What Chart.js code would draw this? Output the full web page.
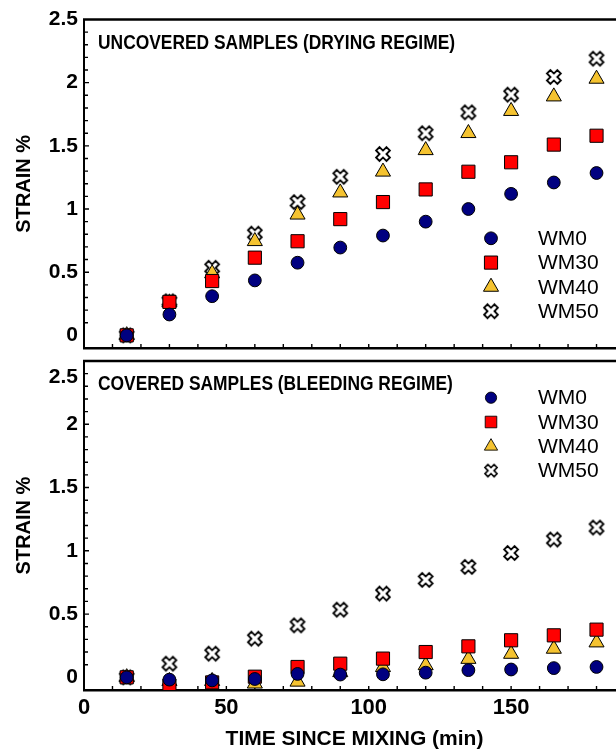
<!DOCTYPE html>
<html>
<head>
<meta charset="utf-8">
<script src="https://cdn.jsdelivr.net/npm/chart.js@4/dist/chart.umd.min.js"></script>
<style>
html, body { margin:0; padding:0; width:616px; height:750px; overflow:hidden; background:#fff; }
canvas { display:block; }
</style>
</head>
<body>
<canvas id="dryChart" width="625" height="354"></canvas>
<canvas id="bleedChart" width="625" height="396"></canvas>
<script>
// ===== Data =====
const times = [15, 30, 45, 60, 75, 90, 105, 120, 135, 150, 165, 180];
const seriesNames = ['WM0', 'WM30', 'WM40', 'WM50'];

// uncovered samples (drying regime)
const wm0Dry  = [0, 0.165, 0.31, 0.435, 0.575, 0.695, 0.79, 0.90, 1.00, 1.12, 1.21, 1.285];
const wm30Dry = [0, 0.265, 0.43, 0.615, 0.745, 0.92, 1.055, 1.155, 1.295, 1.37, 1.51, 1.58];
const wm40Dry = [0, 0.26, 0.49, 0.745, 0.955, 1.13, 1.295, 1.465, 1.60, 1.775, 1.89, 2.03];
const wm50Dry = [0, 0.27, 0.535, 0.805, 1.055, 1.255, 1.435, 1.60, 1.765, 1.905, 2.045, 2.19];

// covered samples (bleeding regime)
const wm0Bleed  = [0, -0.018, -0.024, -0.013, 0.027, 0.022, 0.024, 0.037, 0.057, 0.062, 0.073, 0.082];
const wm30Bleed = [0, -0.065, -0.04, 0.005, 0.082, 0.108, 0.148, 0.20, 0.245, 0.293, 0.332, 0.377];
const wm40Bleed = [0, -0.03, -0.03, -0.05, -0.035, 0.04, 0.08, 0.095, 0.145, 0.185, 0.225, 0.275];
const wm50Bleed = [0, 0.108, 0.187, 0.306, 0.411, 0.535, 0.662, 0.77, 0.873, 0.983, 1.089, 1.184];

const xTicks = [0, 50, 100, 150];
const yTicks = [0, 0.5, 1, 1.5, 2, 2.5];
const yTickLabels = ['0', '0.5', '1', '1.5', '2', '2.5'];
const panelTitles = ['UNCOVERED SAMPLES (DRYING REGIME)', 'COVERED SAMPLES (BLEEDING REGIME)'];
const xTitle = 'TIME SINCE MIXING (min)';
const yTitle = 'STRAIN %';

// ===== Markers =====
const FONT = "'Liberation Sans', Arial, sans-serif";

function makeCross(size) {
    let c = document.createElement('canvas');
    c.width = c.height = size;
    let g = c.getContext('2d');
    let L = size * 0.41, w = size * 0.135;
    g.translate(size / 2, size / 2);
    g.rotate(Math.PI / 4);
    g.beginPath();
    g.moveTo(-w, -L); g.lineTo(w, -L); g.lineTo(w, -w); g.lineTo(L, -w);
    g.lineTo(L, w); g.lineTo(w, w); g.lineTo(w, L); g.lineTo(-w, L);
    g.lineTo(-w, w); g.lineTo(-L, w); g.lineTo(-L, -w); g.lineTo(-w, -w);
    g.closePath();
    g.fillStyle = '#fff';
    g.fill();
    g.lineWidth = 1.8;
    g.strokeStyle = '#000';
    g.stroke();
    return c;
}
const crossMark = makeCross(18);

const seriesStyles = [
    { pointStyle: 'circle', color: '#000080', radius: 6.4 },
    { pointStyle: 'rect', color: '#ff0000', radius: 9.3 },
    { pointStyle: 'triangle', color: '#f5c330', radius: 8.7 },
    { pointStyle: crossMark, color: '#ffffff', radius: 8 }
];

// ===== Decoration plugin (frame, inward ticks, panel title, legend) =====
const panelDecor = {
    id: 'panelDecor',
    beforeDatasetsDraw(chart, args, opts) {
        let ctx = chart.ctx, a = chart.chartArea;
        let xs = chart.scales.x, ys = chart.scales.y;
        ctx.save();
        ctx.strokeStyle = '#000';
        // top frame line
        ctx.lineWidth = 2.5;
        ctx.beginPath();
        ctx.moveTo(a.left - 1, a.top);
        ctx.lineTo(a.right, a.top);
        ctx.stroke();
        // inward ticks
        ctx.lineWidth = 1.4;
        ctx.beginPath();
        for (let k = 1; k < 25; k++) {
            let y = ys.getPixelForValue(k / 10);
            let len = k % 5 === 0 ? 5 : 4;
            ctx.moveTo(a.left, y);
            ctx.lineTo(a.left + len, y);
        }
        for (let k = 1; k < 19; k++) {
            let x = xs.getPixelForValue(k * 10);
            ctx.moveTo(x, a.bottom);
            ctx.lineTo(x, a.bottom - 4);
        }
        ctx.stroke();
        ctx.restore();
    },
    afterDraw(chart, args, opts) {
        let ctx = chart.ctx, a = chart.chartArea;
        ctx.save();
        // panel title (narrow bold face)
        ctx.fillStyle = '#000';
        ctx.font = 'bold 20px ' + FONT;
        ctx.textBaseline = 'alphabetic';
        ctx.save();
        ctx.translate(a.left + 14, a.top + 29);
        ctx.scale(0.87, 1);
        ctx.fillText(opts.title, 0, 0);
        ctx.restore();

        // moved top tick label
        if (opts.movedTopLabel) {
            ctx.font = 'bold 21px ' + FONT;
            ctx.textAlign = 'right';
            ctx.textBaseline = 'middle';
            ctx.fillText(yTickLabels[yTickLabels.length - 1], a.left - 6, chart.scales.y.getPixelForValue(2.5) + 16);
        }

        // legend
        let mx = a.left + 407, ty = a.top + opts.legendTop;
        chart.data.datasets.forEach((ds, i) => {
            let y = ty + i * 24.3;
            ctx.save();
            ctx.translate(mx, y);
            ctx.scale(opts.legendScale, opts.legendScale);
            ctx.fillStyle = ds.backgroundColor;
            ctx.strokeStyle = '#000';
            ctx.lineWidth = 1;
            Chart.helpers.drawPoint(ctx, { pointStyle: ds.pointStyle, radius: ds.pointRadius, borderWidth: 1, rotation: 0 }, 0, 0);
            ctx.restore();
            ctx.fillStyle = '#000';
            ctx.font = '21px ' + FONT;
            ctx.textAlign = 'left';
            ctx.textBaseline = 'middle';
            ctx.fillText(ds.label, mx + 47, y + 1);
        });
        ctx.restore();
    }
};

// ===== Charts =====
function makePanel(id, values, cfg) {
    let datasets = values.map((vals, i) => ({
        label: seriesNames[i],
        data: times.map((t, j) => ({ x: t, y: vals[j] })),
        pointStyle: seriesStyles[i].pointStyle,
        pointRadius: seriesStyles[i].radius,
        backgroundColor: seriesStyles[i].color,
        borderColor: '#000',
        pointBorderWidth: 1,
        showLine: false
    }));
    let yList = cfg.movedTopLabel ? yTicks.slice(0, yTicks.length - 1) : yTicks;
    return new Chart(document.getElementById(id), {
        type: 'scatter',
        data: { datasets: datasets },
        plugins: [panelDecor],
        options: {
            responsive: false,
            animation: false,
            layout: { autoPadding: false, padding: { top: cfg.padTop, left: 0, right: 0, bottom: 0 } },
            plugins: {
                legend: { display: false },
                tooltip: { enabled: false },
                panelDecor: { title: cfg.title, legendTop: cfg.legendTop, legendScale: cfg.legendScale, movedTopLabel: cfg.movedTopLabel }
            },
            scales: {
                x: {
                    type: 'linear', min: 0, max: 190,
                    grid: { display: false, drawTicks: false },
                    border: { display: true, color: '#000', width: 2.5 },
                    afterBuildTicks: s => { s.ticks = xTicks.map(v => ({ value: v })); },
                    afterFit: s => { s.height = cfg.xAxisHeight; s.paddingLeft = 0; s.paddingRight = 0; },
                    ticks: { display: cfg.showX, autoSkip: false, maxRotation: 0, padding: 5, color: '#000',
                             font: { family: FONT, size: 22, weight: 'bold' } },
                    title: { display: cfg.showX, text: xTitle, color: '#000', padding: { top: 0, bottom: 0 },
                             font: { family: FONT, size: 21, weight: 'bold', lineHeight: 1 } }
                },
                y: {
                    type: 'linear', min: -0.1, max: 2.5,
                    grid: { display: false, drawTicks: false },
                    border: { display: true, color: '#000', width: 2 },
                    afterBuildTicks: s => { s.ticks = yList.map(v => ({ value: v })); },
                    afterFit: s => { s.width = 84; s.paddingTop = 0; s.paddingBottom = 0; },
                    ticks: { padding: 6, color: '#000', font: { family: FONT, size: 21, weight: 'bold' },
                             callback: v => yTickLabels[yTicks.indexOf(v)] },
                    title: { display: true, text: yTitle, color: '#000', padding: { top: 12, bottom: 0 },
                             font: { family: FONT, size: 20, weight: 'bold' } }
                }
            }
        }
    });
}

makePanel('dryChart', [wm0Dry, wm30Dry, wm40Dry, wm50Dry], {
    title: panelTitles[0], padTop: 19.5, xAxisHeight: 6, showX: false, legendTop: 218.8, legendScale: 1, movedTopLabel: false
});
makePanel('bleedChart', [wm0Bleed, wm30Bleed, wm40Bleed, wm50Bleed], {
    title: panelTitles[1], padTop: 7, xAxisHeight: 60, showX: true, legendTop: 36.7, legendScale: 0.88, movedTopLabel: true
});
</script>
</body>
</html>
